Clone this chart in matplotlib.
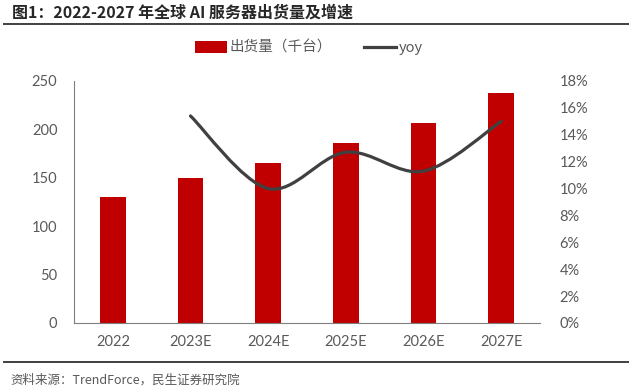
#!/usr/bin/env python3
"""AI server shipments 2022-2027 with yoy growth (bar + smooth line)."""

import matplotlib

matplotlib.use("Agg")
import matplotlib.pyplot as plt
from matplotlib.lines import Line2D
from matplotlib.patches import Patch, PathPatch
from matplotlib.path import Path
from matplotlib.ticker import FuncFormatter

years = ["2022", "2023E", "2024E", "2025E", "2026E", "2027E"]
shipments = [130, 150, 165, 186, 207, 238]
yoy = [None, 0.154, 0.100, 0.127, 0.113, 0.150]

title = "图1：2022-2027 年全球 AI 服务器出货量及增速"
source = "资料来源：TrendForce，民生证券研究院"
bar_label = "出货量（千台）"
line_label = "yoy"

BAR_COLOR = "#C00000"
LINE_COLOR = "#404040"
TEXT_GRAY = "#595959"
CJK = ["Noto Sans CJK SC", "DejaVu Sans"]
NUM = ["Lato", "Noto Sans CJK SC", "DejaVu Sans"]


def smooth_path(xs, ys):
    # Excel-style smoothed line: cubic Bezier segments through every point
    pts = list(zip(xs, ys))
    verts = [pts[0]]
    codes = [Path.MOVETO]
    for i in range(len(pts) - 1):
        p0 = pts[i - 1] if i > 0 else pts[i]
        p1 = pts[i]
        p2 = pts[i + 1]
        p3 = pts[i + 2] if i + 2 < len(pts) else pts[i + 1]
        c1 = (p1[0] + (p2[0] - p0[0]) / 6, p1[1] + (p2[1] - p0[1]) / 6)
        c2 = (p2[0] - (p3[0] - p1[0]) / 6, p2[1] - (p3[1] - p1[1]) / 6)
        verts += [c1, c2, p2]
        codes += [Path.CURVE4] * 3
    return Path(verts, codes)


fig = plt.figure(figsize=(6.29, 3.91), dpi=100)
ax = fig.add_axes([74 / 629, 1 - 323 / 391, 466 / 629, 242 / 391])
ax2 = ax.twinx()

x = list(range(len(years)))
ax.bar(x, shipments, width=0.33, color=BAR_COLOR, zorder=2)
ax.set_xlim(-0.5, len(years) - 0.5)
ax.set_ylim(0, 250)
ax.set_yticks(range(0, 251, 50))
ax.set_xticks(x)
ax.set_xticklabels(years)

line_x = [i for i, v in zip(x, yoy) if v is not None]
line_y = [v for v in yoy if v is not None]
ax2.add_patch(PathPatch(smooth_path(line_x, line_y), facecolor="none",
                        edgecolor=LINE_COLOR, linewidth=2.3, capstyle="round",
                        zorder=3))
ax2.set_ylim(0, 0.18)
ax2.set_yticks([i / 100 for i in range(0, 19, 2)])
ax2.yaxis.set_major_formatter(FuncFormatter(lambda v, _p: f"{v * 100:.0f}%"))

for a in (ax, ax2):
    for side in ("top", "right", "left", "bottom"):
        a.spines[side].set_visible(False)
    a.tick_params(length=0, labelsize=10.5, labelcolor=TEXT_GRAY)
    for lab in a.get_xticklabels() + a.get_yticklabels():
        lab.set_family(NUM)
ax.spines["left"].set_visible(True)
ax.spines["bottom"].set_visible(True)
ax.spines["left"].set_color("#7f7f7f")
ax.spines["bottom"].set_color("#7f7f7f")
ax.tick_params(axis="y", pad=12)
ax.tick_params(axis="x", pad=9)
ax2.tick_params(axis="y", pad=14)
ax2.set_zorder(ax.get_zorder() + 1)
ax2.patch.set_visible(False)

handles = [Patch(facecolor=BAR_COLOR), Line2D([0], [0], color=LINE_COLOR, lw=2.3)]
leg = fig.legend(handles, [bar_label, line_label], loc="center",
                 bbox_to_anchor=(309 / 629, 1 - 48 / 391), ncol=2, frameon=False,
                 handlelength=2.2, handleheight=0.8, columnspacing=2.2,
                 handletextpad=0.2, prop={"family": CJK, "size": 10.5})
for t in leg.get_texts():
    t.set_color(TEXT_GRAY)

fig.text(12 / 629, 1 - 13 / 391, title, family=CJK, fontsize=11.5,
         fontweight="bold", color="#262626", va="center", ha="left")
fig.add_artist(Line2D([4 / 629, 1.0], [1 - 24 / 391] * 2, color="#404040", lw=1.4))
fig.add_artist(Line2D([4 / 629, 1.0], [1 - 362 / 391] * 2, color="#404040", lw=1.4))
fig.text(10 / 629, 1 - 380 / 391, source, family=CJK, fontsize=9,
         color=TEXT_GRAY, va="center", ha="left")

fig.savefig("out.png", dpi=100)
